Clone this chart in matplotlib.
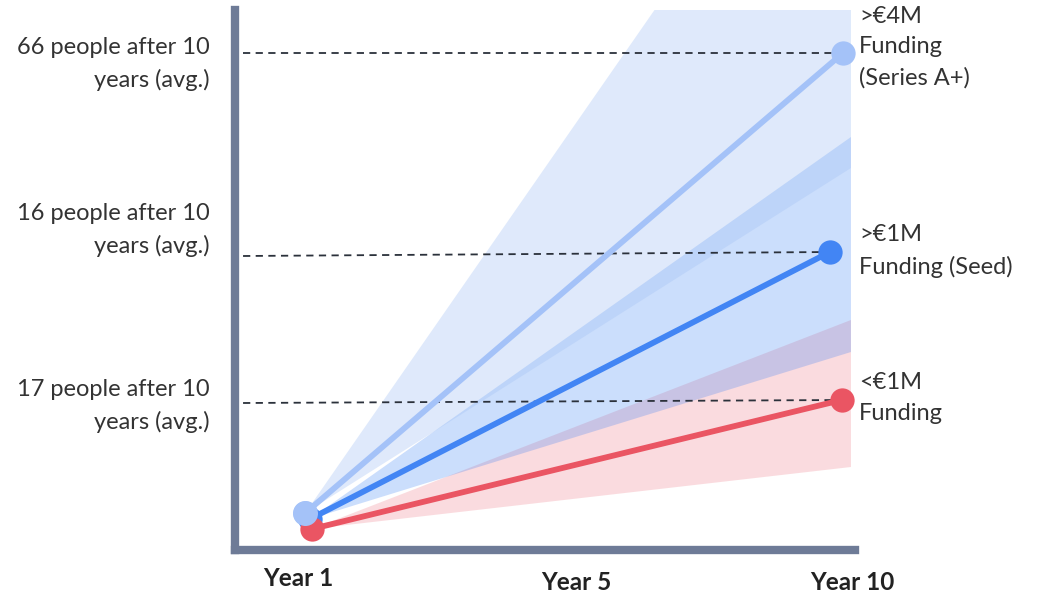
import matplotlib.pyplot as plt
import matplotlib.transforms as mtransforms

plt.rcParams['font.family'] = ['Lato', 'DejaVu Sans']

# data (x in years, y in an arbitrary growth index)
series_names = ['>€4M\nFunding\n(Series A+)', '>€1M\nFunding (Seed)', '<€1M\nFunding']
left_labels = ['66 people after 10\nyears (avg.)', '16 people after 10\nyears (avg.)', '17 people after 10\nyears (avg.)']
start_x = [0.92, 1.0, 1.03]
start_y = [3.7, 3.1, 2.1]
end_x = [10.0, 9.78, 9.98]
end_y = [49.7, 29.8, 15.0]
guide_left_y = [49.7, 29.4, 14.7]
cone_x = 10.135
cone_upper = [82.3, 41.3, 23.0]
cone_lower = [38.2, 19.8, 8.3]
year_labels = ['Year 1', 'Year 5', 'Year 10']
year_pos = [0.8, 5.5, 10.15]

line_colors = ['#a4c2f8', '#4285f4', '#ea5563']
cone_colors = ['#a4c2f4', '#4285f4', '#ea4f5f']
cone_alpha = [0.35, 0.27, 0.2]
cone_z = [3, 2, 1]

fig = plt.figure(figsize=(10.41, 5.95), dpi=100)
ax = fig.add_axes([235 / 1041, 45 / 595, 620 / 1041, 540 / 595])
ax.set_xlim(-0.266, 10.203)
ax.set_ylim(0, 54)

# cones
for i in range(3):
    ax.fill([start_x[i], cone_x, cone_x], [start_y[i], cone_upper[i], cone_lower[i]],
            color=cone_colors[i], alpha=cone_alpha[i], lw=0, zorder=cone_z[i])

# dashed guides
for i in range(3):
    ax.plot([-0.13, end_x[i]], [guide_left_y[i], end_y[i]], ls=(0, (4, 3)), color='#2b313b',
            lw=1.3, zorder=5)

# lines + dots (red last so it sits on top at the start)
for i in [1, 0, 2]:
    ax.plot([start_x[i], end_x[i]], [start_y[i], end_y[i]], color=line_colors[i], lw=4.2,
            solid_capstyle='round', zorder=6 + i)
    ax.plot([start_x[i], end_x[i]], [start_y[i], end_y[i]], 'o', color=line_colors[i],
            ms=17.5, mec='none', zorder=6 + i)
# light-blue start dot sits above the red one
ax.plot([start_x[0]], [start_y[0]], 'o', color=line_colors[0], ms=18, mec='none', zorder=10)

# labels on the right of the end points
label_y = [50.3, 29.9, 15.2]
for i in range(3):
    ax.text(10.27, label_y[i], series_names[i], ha='left', va='center', fontsize=17,
            color='#333333', linespacing=1.55, clip_on=False)

# labels on the left
left_y = [48.6, 32.0, 14.4]
for i in range(3):
    ax.text(-0.69, left_y[i], left_labels[i], ha='right', va='center', fontsize=17,
            color='#333333', linespacing=1.55, clip_on=False)

# year labels
trans = mtransforms.blended_transform_factory(ax.transData, fig.transFigure)
year_y = [1 - 578 / 595, 1 - 583 / 595, 1 - 583 / 595]
for lab, xp, yp in zip(year_labels, year_pos, year_y):
    ax.text(xp, yp, lab, transform=trans, ha='center', va='center', fontsize=17.5,
            fontweight='bold', color='#222222')

for s in ['top', 'right']:
    ax.spines[s].set_visible(False)
for s in ['left', 'bottom']:
    ax.spines[s].set_color('#6e7b97')
    ax.spines[s].set_linewidth(6)
    ax.spines[s].set_capstyle('projecting')
ax.set_xticks([])
ax.set_yticks([])

fig.savefig('out.png', dpi=100)
